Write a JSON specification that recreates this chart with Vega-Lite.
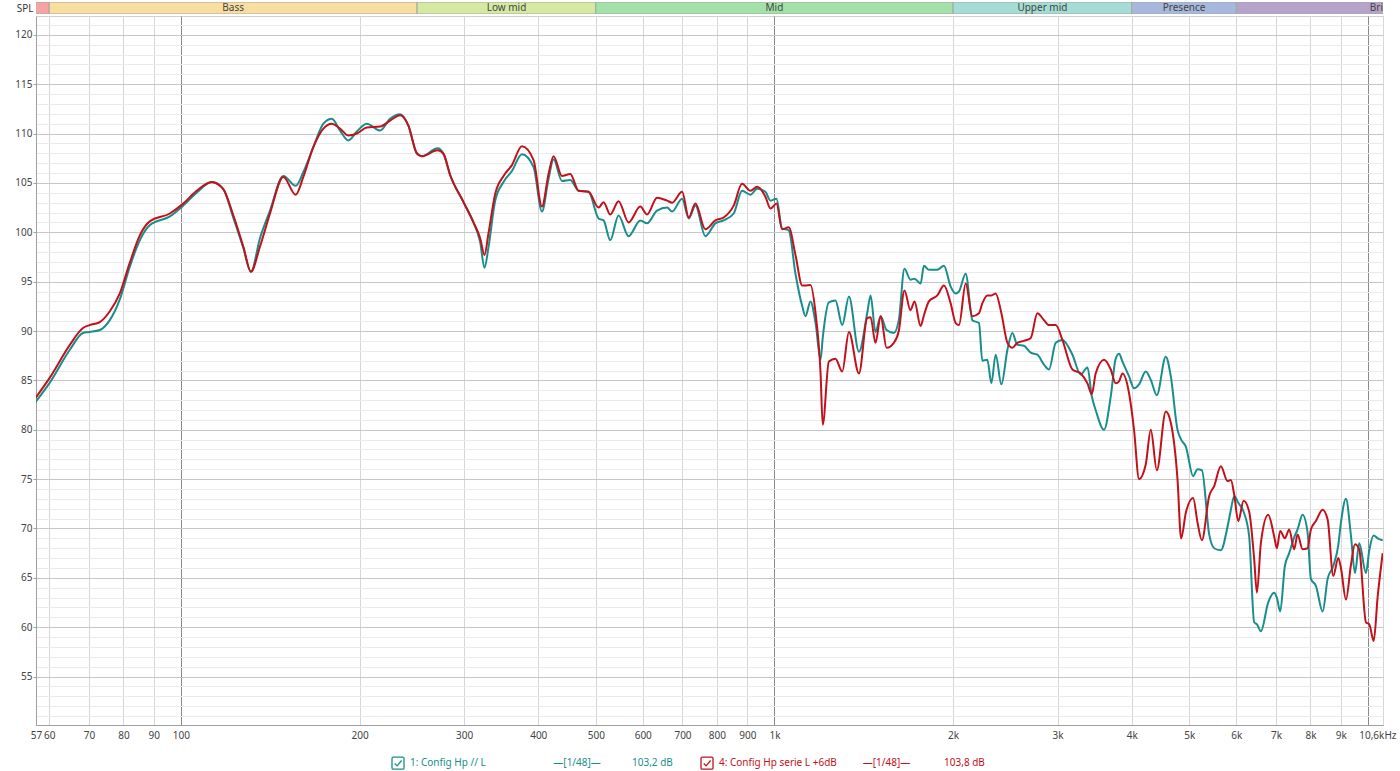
{
  "$schema": "https://vega.github.io/schema/vega-lite/v6.json",
  "background": "white",
  "padding": {"left": 14, "top": 2, "right": 0, "bottom": 0},
  "spacing": 2,
  "bounds": "flush",
  "resolve": {"scale": {"color": "independent"}, "legend": {"color": "independent"}},
  "config": {
    "font": "Noto Sans",
    "view": {"stroke": null},
    "axis": {"labelFont": "Noto Sans", "labelFontSize": 10, "labelColor": "#444444", "titleFont": "Noto Sans"},
    "legend": {"labelFont": "Noto Sans"},
    "text": {"font": "Noto Sans"}
  },
  "vconcat": [
    {
      "width": 1347,
      "height": 12,
      "data": {"values": [
        {"b": "Sub bass", "lo": 20, "hi": 60, "mid": 34.6},
        {"b": "Bass", "lo": 60, "hi": 250, "mid": 122.5},
        {"b": "Low mid", "lo": 250, "hi": 500, "mid": 353.6},
        {"b": "Mid", "lo": 500, "hi": 2000, "mid": 1000},
        {"b": "Upper mid", "lo": 2000, "hi": 4000, "mid": 2828},
        {"b": "Presence", "lo": 4000, "hi": 6000, "mid": 4899},
        {"b": "Brilliance", "lo": 6000, "hi": 20000, "mid": 10954}
      ]},
      "layer": [
        {
          "mark": {"type": "rect", "clip": true, "stroke": "#a6a6a6", "strokeWidth": 1},
          "encoding": {
            "x": {"field": "lo", "type": "quantitative", "scale": {"type": "log", "domain": [57, 10600], "nice": false}, "axis": null},
            "x2": {"field": "hi"},
            "color": {"field": "b", "type": "nominal", "legend": null,
              "scale": {"domain": ["Sub bass", "Bass", "Low mid", "Mid", "Upper mid", "Presence", "Brilliance"],
                        "range": ["#f5a3a3", "#f9df9f", "#d5eaa0", "#a2e2a8", "#a3ddd5", "#a7b8dd", "#b6a3c9"]}}
          }
        },
        {
          "transform": [{"filter": "datum.mid > 57"}],
          "mark": {"type": "text", "clip": true, "fontSize": 10, "color": "#444444", "baseline": "middle"},
          "encoding": {
            "x": {"field": "mid", "type": "quantitative", "scale": {"type": "log", "domain": [57, 10600], "nice": false}, "axis": null},
            "text": {"field": "b"}
          }
        }
      ]
    },
    {
      "width": 1347,
      "height": 709,
      "view": {"stroke": "#cfcfcf"},
      "data": {"values": [
        {"f": 56.7, "T": 82.7, "R": 83.1},
        {"f": 60.1, "T": 84.75, "R": 85.25},
        {"f": 65.0, "T": 88.1, "R": 88.6},
        {"f": 68.4, "T": 89.8, "R": 90.3},
        {"f": 70.2, "T": 89.9, "R": 90.6},
        {"f": 73.0, "T": 90.1, "R": 90.9},
        {"f": 75.9, "T": 91.1, "R": 92.0},
        {"f": 78.9, "T": 93.2, "R": 93.8},
        {"f": 82.0, "T": 96.5, "R": 96.9},
        {"f": 85.3, "T": 99.2, "R": 99.7},
        {"f": 88.6, "T": 100.7, "R": 101.1},
        {"f": 95.8, "T": 101.6, "R": 101.9},
        {"f": 100.9, "T": 102.7, "R": 102.9},
        {"f": 106.3, "T": 104.0, "R": 104.2},
        {"f": 112.7, "T": 105.1, "R": 105.1},
        {"f": 117.8, "T": 104.4, "R": 104.4},
        {"f": 122.5, "T": 101.5, "R": 101.75},
        {"f": 127.4, "T": 98.4, "R": 98.55},
        {"f": 131.2, "T": 96.0, "R": 96.0},
        {"f": 135.9, "T": 99.4, "R": 98.55},
        {"f": 141.3, "T": 102.2, "R": 101.9},
        {"f": 148.8, "T": 105.7, "R": 105.6},
        {"f": 156.1, "T": 104.7, "R": 103.8},
        {"f": 160.8, "T": 106.1, "R": 105.6},
        {"f": 167.2, "T": 108.65, "R": 108.65},
        {"f": 173.8, "T": 111.0, "R": 110.5},
        {"f": 179.6, "T": 111.5, "R": 111.0},
        {"f": 185.4, "T": 110.3, "R": 110.5},
        {"f": 191.5, "T": 109.3, "R": 109.8},
        {"f": 197.9, "T": 110.2, "R": 110.0},
        {"f": 205.7, "T": 111.0, "R": 110.6},
        {"f": 216.6, "T": 110.3, "R": 110.7},
        {"f": 225.1, "T": 111.5, "R": 111.3},
        {"f": 234.1, "T": 111.95, "R": 111.85},
        {"f": 241.7, "T": 110.8, "R": 110.8},
        {"f": 249.7, "T": 108.0, "R": 108.0},
        {"f": 254.6, "T": 107.7, "R": 107.7},
        {"f": 270.7, "T": 108.5, "R": 108.3},
        {"f": 276.9, "T": 107.95, "R": 107.95},
        {"f": 284.2, "T": 105.8, "R": 105.8},
        {"f": 299.3, "T": 103.05, "R": 103.05},
        {"f": 311.1, "T": 101.0, "R": 101.0},
        {"f": 319.3, "T": 99.0, "R": 99.4},
        {"f": 324.7, "T": 96.4, "R": 97.7},
        {"f": 329.8, "T": 98.5, "R": 99.9},
        {"f": 338.5, "T": 103.2, "R": 103.9},
        {"f": 349.6, "T": 105.1, "R": 105.7},
        {"f": 361.2, "T": 106.2, "R": 106.8},
        {"f": 375.4, "T": 107.9, "R": 108.7},
        {"f": 392.8, "T": 106.6, "R": 107.3},
        {"f": 405.8, "T": 102.1, "R": 102.6},
        {"f": 416.3, "T": 105.4, "R": 105.9},
        {"f": 424.5, "T": 107.4, "R": 107.7},
        {"f": 438.5, "T": 105.2, "R": 105.7},
        {"f": 452.9, "T": 105.3, "R": 105.9},
        {"f": 467.7, "T": 104.2, "R": 104.2},
        {"f": 486.2, "T": 104.1, "R": 104.1},
        {"f": 505.5, "T": 101.4, "R": 102.5},
        {"f": 515.4, "T": 101.2, "R": 103.05},
        {"f": 528.9, "T": 99.2, "R": 101.8},
        {"f": 546.2, "T": 101.7, "R": 103.15},
        {"f": 567.9, "T": 99.6, "R": 101.0},
        {"f": 594.3, "T": 101.2, "R": 102.6},
        {"f": 610.0, "T": 100.9, "R": 101.8},
        {"f": 634.2, "T": 102.2, "R": 103.5},
        {"f": 659.4, "T": 102.5, "R": 103.2},
        {"f": 672.3, "T": 102.1, "R": 103.0},
        {"f": 699.0, "T": 103.4, "R": 104.1},
        {"f": 717.2, "T": 101.4, "R": 101.5},
        {"f": 736.0, "T": 102.7, "R": 102.9},
        {"f": 764.9, "T": 99.6, "R": 100.3},
        {"f": 795.2, "T": 100.9, "R": 101.2},
        {"f": 821.3, "T": 101.2, "R": 101.5},
        {"f": 853.8, "T": 101.9, "R": 102.7},
        {"f": 882.0, "T": 104.2, "R": 104.9},
        {"f": 911.2, "T": 103.8, "R": 104.2},
        {"f": 935.1, "T": 104.4, "R": 104.6},
        {"f": 965.6, "T": 104.1, "R": 103.6},
        {"f": 984.7, "T": 103.2, "R": 102.4},
        {"f": 1008, "T": 103.4, "R": 102.9},
        {"f": 1030, "T": 100.4, "R": 100.3},
        {"f": 1057, "T": 100.2, "R": 100.5},
        {"f": 1085, "T": 95.8, "R": 97.7},
        {"f": 1114, "T": 92.5, "R": 94.6},
        {"f": 1128, "T": 91.5, "R": 94.6},
        {"f": 1150, "T": 93.0, "R": 94.65},
        {"f": 1173, "T": 90.8, "R": 91.8},
        {"f": 1196, "T": 87.1, "R": 85.7},
        {"f": 1206, "T": 89.3, "R": 80.5},
        {"f": 1235, "T": 92.9, "R": 86.9},
        {"f": 1267, "T": 93.1, "R": 87.2},
        {"f": 1301, "T": 90.6, "R": 85.9},
        {"f": 1335, "T": 93.5, "R": 89.9},
        {"f": 1388, "T": 87.9, "R": 85.7},
        {"f": 1433, "T": 91.8, "R": 91.3},
        {"f": 1452, "T": 93.6, "R": 91.4},
        {"f": 1480, "T": 89.9, "R": 88.8},
        {"f": 1510, "T": 91.5, "R": 91.5},
        {"f": 1545, "T": 90.1, "R": 88.3},
        {"f": 1589, "T": 89.8, "R": 88.8},
        {"f": 1620, "T": 91.1, "R": 90.0},
        {"f": 1656, "T": 96.3, "R": 94.1},
        {"f": 1695, "T": 95.2, "R": 92.1},
        {"f": 1722, "T": 95.3, "R": 93.0},
        {"f": 1763, "T": 94.8, "R": 90.5},
        {"f": 1786, "T": 96.6, "R": 91.6},
        {"f": 1821, "T": 96.2, "R": 93.0},
        {"f": 1881, "T": 96.2, "R": 93.6},
        {"f": 1930, "T": 96.6, "R": 94.6},
        {"f": 1981, "T": 94.5, "R": 92.8},
        {"f": 2020, "T": 93.8, "R": 90.8},
        {"f": 2046, "T": 94.0, "R": 90.6},
        {"f": 2100, "T": 95.8, "R": 94.8},
        {"f": 2155, "T": 91.1, "R": 91.5},
        {"f": 2211, "T": 90.8, "R": 91.8},
        {"f": 2240, "T": 87.0, "R": 92.8},
        {"f": 2284, "T": 87.1, "R": 93.6},
        {"f": 2320, "T": 84.7, "R": 93.6},
        {"f": 2359, "T": 87.6, "R": 93.8},
        {"f": 2412, "T": 84.6, "R": 91.8},
        {"f": 2469, "T": 88.1, "R": 88.8},
        {"f": 2517, "T": 89.8, "R": 88.3},
        {"f": 2566, "T": 88.6, "R": 88.8},
        {"f": 2633, "T": 88.5, "R": 89.0},
        {"f": 2703, "T": 87.8, "R": 89.3},
        {"f": 2773, "T": 87.6, "R": 91.8},
        {"f": 2845, "T": 86.6, "R": 91.1},
        {"f": 2901, "T": 86.1, "R": 90.6},
        {"f": 2978, "T": 88.8, "R": 90.6},
        {"f": 3056, "T": 89.1, "R": 89.1},
        {"f": 3177, "T": 87.6, "R": 86.1},
        {"f": 3281, "T": 85.6, "R": 85.7},
        {"f": 3368, "T": 86.3, "R": 84.7},
        {"f": 3425, "T": 83.4, "R": 83.6},
        {"f": 3477, "T": 82.0, "R": 85.7},
        {"f": 3592, "T": 80.0, "R": 87.1},
        {"f": 3687, "T": 83.4, "R": 86.1},
        {"f": 3758, "T": 87.2, "R": 84.7},
        {"f": 3807, "T": 87.7, "R": 84.9},
        {"f": 3858, "T": 86.9, "R": 85.7},
        {"f": 3958, "T": 85.4, "R": 83.7},
        {"f": 4035, "T": 84.2, "R": 80.0},
        {"f": 4114, "T": 84.6, "R": 75.0},
        {"f": 4223, "T": 85.9, "R": 76.5},
        {"f": 4306, "T": 85.05, "R": 80.0},
        {"f": 4408, "T": 83.5, "R": 75.9},
        {"f": 4564, "T": 87.4, "R": 81.85},
        {"f": 4654, "T": 85.4, "R": 80.7},
        {"f": 4776, "T": 80.0, "R": 75.0},
        {"f": 4844, "T": 79.0, "R": 69.0},
        {"f": 4933, "T": 78.3, "R": 71.6},
        {"f": 5075, "T": 75.3, "R": 73.1},
        {"f": 5162, "T": 76.0, "R": 70.6},
        {"f": 5250, "T": 75.9, "R": 68.8},
        {"f": 5401, "T": 69.4, "R": 73.3},
        {"f": 5506, "T": 68.0, "R": 74.3},
        {"f": 5651, "T": 67.8, "R": 76.3},
        {"f": 5800, "T": 70.2, "R": 74.8},
        {"f": 5875, "T": 71.9, "R": 74.9},
        {"f": 5952, "T": 73.3, "R": 73.4},
        {"f": 6045, "T": 72.6, "R": 70.75},
        {"f": 6173, "T": 71.7, "R": 72.8},
        {"f": 6307, "T": 69.2, "R": 71.7},
        {"f": 6431, "T": 60.5, "R": 66.9},
        {"f": 6499, "T": 60.3, "R": 63.5},
        {"f": 6602, "T": 59.6, "R": 68.6},
        {"f": 6789, "T": 62.5, "R": 71.4},
        {"f": 6950, "T": 63.5, "R": 69.2},
        {"f": 7022, "T": 63.0, "R": 68.0},
        {"f": 7114, "T": 61.6, "R": 69.75},
        {"f": 7244, "T": 66.2, "R": 69.0},
        {"f": 7367, "T": 67.5, "R": 69.9},
        {"f": 7510, "T": 69.1, "R": 67.9},
        {"f": 7610, "T": 69.9, "R": 69.4},
        {"f": 7759, "T": 71.4, "R": 67.9},
        {"f": 7911, "T": 69.6, "R": 68.0},
        {"f": 8014, "T": 64.9, "R": 69.9},
        {"f": 8171, "T": 64.2, "R": 70.75},
        {"f": 8387, "T": 61.6, "R": 71.9},
        {"f": 8551, "T": 64.9, "R": 70.9},
        {"f": 8740, "T": 66.2, "R": 65.2},
        {"f": 8911, "T": 68.3, "R": 67.0},
        {"f": 9004, "T": 70.6, "R": 66.0},
        {"f": 9181, "T": 73.0, "R": 62.8},
        {"f": 9360, "T": 69.3, "R": 66.3},
        {"f": 9508, "T": 65.5, "R": 68.4},
        {"f": 9666, "T": 68.5, "R": 67.9},
        {"f": 9922, "T": 65.5, "R": 60.5},
        {"f": 10051, "T": 67.8, "R": 60.3},
        {"f": 10224, "T": 69.3, "R": 58.6},
        {"f": 10383, "T": 69.0, "R": 63.1},
        {"f": 10588, "T": 68.8, "R": 67.5}
      ]},
      "encoding": {
        "x": {
          "field": "f", "type": "quantitative",
          "scale": {"type": "log", "domain": [57, 10600], "nice": false},
          "axis": {
            "title": null,
            "values": [57, 60, 70, 80, 90, 100, 200, 300, 400, 500, 600, 700, 800, 900, 1000, 2000, 3000, 4000, 5000, 6000, 7000, 8000, 9000, 10000, 10600],
            "labelExpr": "datum.value == 10600 ? '10,6kHz' : datum.value == 10000 ? '' : datum.value >= 1000 ? (datum.value / 1000) + 'k' : datum.label",
            "labelOverlap": false,
            "labelFlush": false,
            "labelPadding": 5,
            "ticks": false,
            "domainColor": "#a0a0a0",
            "gridColor": {"condition": {"test": "datum.value == 100 || datum.value == 1000 || datum.value == 10000", "value": "#8a8a8a"}, "value": "#d6d6d6"},
            "labelAlign": {"condition": {"test": "datum.value == 10600", "value": "right"}, "value": "center"},
            "labelOffset": {"condition": {"test": "datum.value == 10600", "value": 13}, "value": 0}
          }
        }
      },
      "layer": [
        {
          "mark": {"type": "line", "interpolate": "monotone", "strokeWidth": 2, "clip": true},
          "encoding": {
            "y": {
              "field": "T", "type": "quantitative",
              "scale": {"domain": [50.1, 121.9], "nice": false, "zero": false},
              "axis": {
                "title": "SPL",
                "titleAngle": 0,
                "titleAlign": "right",
                "titleBaseline": "middle",
                "titleX": -3,
                "titleY": -8,
                "titleFontSize": 10,
                "titleFontWeight": "normal",
                "titleColor": "#333333",
                "values": [51, 52, 53, 54, 55, 56, 57, 58, 59, 60, 61, 62, 63, 64, 65, 66, 67, 68, 69, 70, 71, 72, 73, 74, 75, 76, 77, 78, 79, 80, 81, 82, 83, 84, 85, 86, 87, 88, 89, 90, 91, 92, 93, 94, 95, 96, 97, 98, 99, 100, 101, 102, 103, 104, 105, 106, 107, 108, 109, 110, 111, 112, 113, 114, 115, 116, 117, 118, 119, 120, 121],
                "labelExpr": "datum.value % 5 == 0 ? datum.label : ''",
                "labelOverlap": false,
                "labelPadding": 1,
                "tickSize": 3,
                "tickColor": "#a0a0a0",
                "tickOpacity": {"condition": {"test": "datum.value % 5 == 0", "value": 1}, "value": 0},
                "domainColor": "#a0a0a0",
                "gridColor": {"condition": {"test": "datum.value % 5 == 0", "value": "#c6c6c6"}, "value": "#eaeaea"}
              }
            },
            "color": {
              "datum": "T", "type": "nominal",
              "scale": {"domain": ["T", "R"], "range": ["#178e8c", "#c4101a"]},
              "legend": {
                "title": null,
                "orient": "none",
                "legendX": 355,
                "legendY": 740,
                "direction": "horizontal",
                "columns": 2,
                "columnPadding": 25,
                "symbolType": "M-0.8,-1 L0.8,-1 Q1,-1 1,-0.8 L1,0.8 Q1,1 0.8,1 L-0.8,1 Q-1,1 -1,0.8 L-1,-0.8 Q-1,-1 -0.8,-1 Z M-0.55,0.05 L-0.15,0.45 L0.6,-0.45",
                "symbolSize": 144,
                "symbolStrokeWidth": 1.3,
                "labelFontSize": 10,
                "labelOffset": 5,
                "labelLimit": 500,
                "labelExpr": "datum.value == 'T' ? '1: Config Hp // L\u00a0\u00a0\u00a0\u00a0\u00a0\u00a0\u00a0\u00a0\u00a0\u00a0\u00a0\u00a0\u00a0\u00a0\u00a0\u00a0\u00a0\u00a0\u00a0\u00a0\u00a0\u00a0\u00a0\u00a0\u00a0\u00a0\u2014[1/48]\u2014\u00a0\u00a0\u00a0\u00a0\u00a0\u00a0\u00a0\u00a0\u00a0\u00a0\u00a0\u00a0103,2 dB' : '4: Config Hp serie L +6dB\u00a0\u00a0\u00a0\u00a0\u00a0\u00a0\u00a0\u00a0\u00a0\u00a0\u2014[1/48]\u2014\u00a0\u00a0\u00a0\u00a0\u00a0\u00a0\u00a0\u00a0\u00a0\u00a0\u00a0\u00a0\u00a0103,8 dB'",
                "encode": {
                  "symbols": {"update": {"stroke": {"value": "#3b8fd8"}, "fill": {"value": "white"}, "strokeWidth": {"value": 1.3}}},
                  "labels": {"update": {"fill": {"signal": "datum.value == 'T' ? '#178e8c' : '#c4101a'"}}}
                }
              }
            }
          }
        },
        {
          "mark": {"type": "line", "interpolate": "monotone", "strokeWidth": 2, "clip": true},
          "encoding": {
            "y": {
              "field": "R", "type": "quantitative",
              "axis": {
                "title": "SPL",
                "titleAngle": 0,
                "titleAlign": "right",
                "titleBaseline": "middle",
                "titleX": -3,
                "titleY": -8,
                "titleFontSize": 10,
                "titleFontWeight": "normal",
                "titleColor": "#333333",
                "values": [51, 52, 53, 54, 55, 56, 57, 58, 59, 60, 61, 62, 63, 64, 65, 66, 67, 68, 69, 70, 71, 72, 73, 74, 75, 76, 77, 78, 79, 80, 81, 82, 83, 84, 85, 86, 87, 88, 89, 90, 91, 92, 93, 94, 95, 96, 97, 98, 99, 100, 101, 102, 103, 104, 105, 106, 107, 108, 109, 110, 111, 112, 113, 114, 115, 116, 117, 118, 119, 120, 121],
                "labelExpr": "datum.value % 5 == 0 ? datum.label : ''",
                "labelOverlap": false,
                "labelPadding": 1,
                "tickSize": 3,
                "tickColor": "#a0a0a0",
                "tickOpacity": {"condition": {"test": "datum.value % 5 == 0", "value": 1}, "value": 0},
                "domainColor": "#a0a0a0",
                "gridColor": {"condition": {"test": "datum.value % 5 == 0", "value": "#c6c6c6"}, "value": "#eaeaea"}
              }
            },
            "color": {"datum": "R", "type": "nominal"}
          }
        }
      ]
    }
  ]
}
